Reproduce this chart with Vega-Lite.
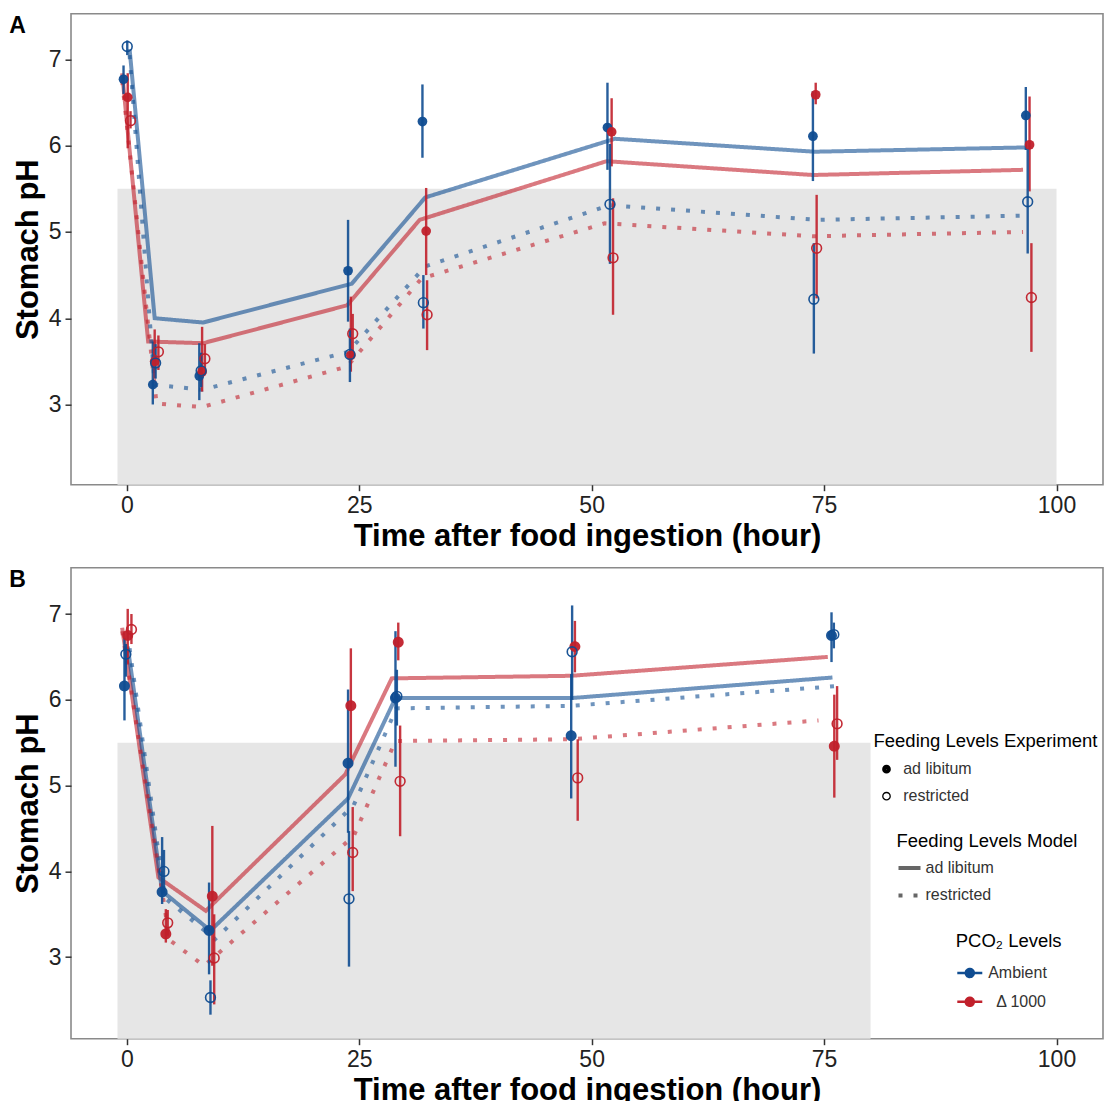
{
  "$schema": "https://vega.github.io/schema/vega-lite/v6.json",
  "background": "white",
  "padding": {"left": 8, "top": 12.7, "right": 0, "bottom": 0},
  "spacing": 14,
  "config": {
    "font": "Liberation Sans",
    "view": {"stroke": "#8a8a8a", "strokeWidth": 1.6},
    "axis": {"domain": false, "grid": false, "tickColor": "#333333", "tickSize": 6, "tickWidth": 1.5, "labelFontSize": 23, "labelColor": "#222222", "labelFont": "Liberation Sans", "titleFont": "Liberation Sans", "titleFontSize": 31, "titleFontWeight": "bold", "titleColor": "#000000", "labelPadding": 4, "titlePadding": 4},
    "legend": {"titleFont": "Liberation Sans", "labelFont": "Liberation Sans", "titleFontSize": 18.5, "titleFontWeight": "normal", "titleColor": "#000000", "labelFontSize": 16, "labelColor": "#333333", "padding": 0, "titlePadding": 10, "rowPadding": 11, "titleLimit": 500, "labelLimit": 300, "symbolOpacity": 1},
    "title": {"font": "Liberation Sans", "fontSize": 23, "fontWeight": "bold", "anchor": "start", "frame": "bounds", "baseline": "top", "offset": -24, "dx": -3, "color": "#000000"}
  },
  "resolve": {"scale": {"color": "independent", "shape": "independent", "strokeDash": "independent"}, "legend": {"color": "independent", "shape": "independent", "strokeDash": "independent"}},
  "datasets": {
    "mA": [
      {"co2": "Ambient", "feedModel": "ad libitum", "t": 0.3, "pH": 7.12},
      {"co2": "Ambient", "feedModel": "ad libitum", "t": 3.0, "pH": 4.0},
      {"co2": "Ambient", "feedModel": "ad libitum", "t": 8.2, "pH": 3.95},
      {"co2": "Ambient", "feedModel": "ad libitum", "t": 24.2, "pH": 4.40},
      {"co2": "Ambient", "feedModel": "ad libitum", "t": 32.1, "pH": 5.40},
      {"co2": "Ambient", "feedModel": "ad libitum", "t": 52.5, "pH": 6.08},
      {"co2": "Ambient", "feedModel": "ad libitum", "t": 74.0, "pH": 5.93},
      {"co2": "Ambient", "feedModel": "ad libitum", "t": 96.8, "pH": 5.98},
      {"co2": "Δ 1000", "feedModel": "ad libitum", "t": -0.5, "pH": 6.84},
      {"co2": "Δ 1000", "feedModel": "ad libitum", "t": 2.3, "pH": 3.73},
      {"co2": "Δ 1000", "feedModel": "ad libitum", "t": 8.2, "pH": 3.71},
      {"co2": "Δ 1000", "feedModel": "ad libitum", "t": 23.7, "pH": 4.15},
      {"co2": "Δ 1000", "feedModel": "ad libitum", "t": 31.5, "pH": 5.14},
      {"co2": "Δ 1000", "feedModel": "ad libitum", "t": 51.6, "pH": 5.82},
      {"co2": "Δ 1000", "feedModel": "ad libitum", "t": 73.8, "pH": 5.66},
      {"co2": "Δ 1000", "feedModel": "ad libitum", "t": 96.4, "pH": 5.72},
      {"co2": "Ambient", "feedModel": "restricted", "t": 0.3, "pH": 7.05},
      {"co2": "Ambient", "feedModel": "restricted", "t": 3.0, "pH": 3.23},
      {"co2": "Ambient", "feedModel": "restricted", "t": 8.1, "pH": 3.17},
      {"co2": "Ambient", "feedModel": "restricted", "t": 23.8, "pH": 3.61},
      {"co2": "Ambient", "feedModel": "restricted", "t": 32.1, "pH": 4.60},
      {"co2": "Ambient", "feedModel": "restricted", "t": 51.9, "pH": 5.31},
      {"co2": "Ambient", "feedModel": "restricted", "t": 74.4, "pH": 5.14},
      {"co2": "Ambient", "feedModel": "restricted", "t": 96.9, "pH": 5.19},
      {"co2": "Δ 1000", "feedModel": "restricted", "t": -0.5, "pH": 6.75},
      {"co2": "Δ 1000", "feedModel": "restricted", "t": 3.2, "pH": 3.01},
      {"co2": "Δ 1000", "feedModel": "restricted", "t": 8.1, "pH": 2.97},
      {"co2": "Δ 1000", "feedModel": "restricted", "t": 23.7, "pH": 3.44},
      {"co2": "Δ 1000", "feedModel": "restricted", "t": 31.7, "pH": 4.46},
      {"co2": "Δ 1000", "feedModel": "restricted", "t": 51.4, "pH": 5.10},
      {"co2": "Δ 1000", "feedModel": "restricted", "t": 73.8, "pH": 4.95},
      {"co2": "Δ 1000", "feedModel": "restricted", "t": 96.4, "pH": 5.00}
    ],
    "eA": [
      {"co2": "Ambient", "feedExp": "ad libitum", "t": -0.35, "pH": 6.77, "lo": 6.6, "hi": 6.93},
      {"co2": "Δ 1000", "feedExp": "ad libitum", "t": 0.1, "pH": 6.56, "lo": 5.97, "hi": 6.84},
      {"co2": "Ambient", "feedExp": "restricted", "t": 0.05, "pH": 7.15, "lo": 7.05, "hi": 7.22},
      {"co2": "Δ 1000", "feedExp": "restricted", "t": 0.4, "pH": 6.29, "lo": 6.2, "hi": 6.4},
      {"co2": "Ambient", "feedExp": "ad libitum", "t": 2.8, "pH": 3.23, "lo": 3.0, "hi": 3.73},
      {"co2": "Δ 1000", "feedExp": "ad libitum", "t": 3.0, "pH": 3.50, "lo": 3.30, "hi": 3.87},
      {"co2": "Ambient", "feedExp": "restricted", "t": 3.1, "pH": 3.48, "lo": 3.3, "hi": 3.7},
      {"co2": "Δ 1000", "feedExp": "restricted", "t": 3.4, "pH": 3.61, "lo": 3.4, "hi": 3.8},
      {"co2": "Ambient", "feedExp": "ad libitum", "t": 7.8, "pH": 3.33, "lo": 3.05, "hi": 3.71},
      {"co2": "Δ 1000", "feedExp": "ad libitum", "t": 8.1, "pH": 3.38, "lo": 3.15, "hi": 3.90},
      {"co2": "Ambient", "feedExp": "restricted", "t": 8.0, "pH": 3.39, "lo": 3.2, "hi": 3.6},
      {"co2": "Δ 1000", "feedExp": "restricted", "t": 8.4, "pH": 3.53, "lo": 3.35, "hi": 3.7},
      {"co2": "Ambient", "feedExp": "ad libitum", "t": 23.8, "pH": 4.55, "lo": 3.96, "hi": 5.14},
      {"co2": "Δ 1000", "feedExp": "ad libitum", "t": 24.1, "pH": 3.57, "lo": 3.38, "hi": 4.25},
      {"co2": "Ambient", "feedExp": "restricted", "t": 24.0, "pH": 3.58, "lo": 3.26, "hi": 3.88},
      {"co2": "Δ 1000", "feedExp": "restricted", "t": 24.3, "pH": 3.82, "lo": 3.55, "hi": 4.05},
      {"co2": "Ambient", "feedExp": "ad libitum", "t": 31.8, "pH": 6.28, "lo": 5.86, "hi": 6.71},
      {"co2": "Δ 1000", "feedExp": "ad libitum", "t": 32.2, "pH": 5.01, "lo": 4.50, "hi": 5.51},
      {"co2": "Ambient", "feedExp": "restricted", "t": 31.9, "pH": 4.18, "lo": 3.88, "hi": 4.50},
      {"co2": "Δ 1000", "feedExp": "restricted", "t": 32.3, "pH": 4.04, "lo": 3.63, "hi": 4.44},
      {"co2": "Ambient", "feedExp": "ad libitum", "t": 51.7, "pH": 6.21, "lo": 5.72, "hi": 6.73},
      {"co2": "Δ 1000", "feedExp": "ad libitum", "t": 52.15, "pH": 6.16, "lo": 5.76, "hi": 6.55},
      {"co2": "Ambient", "feedExp": "restricted", "t": 51.97, "pH": 5.32, "lo": 4.63, "hi": 6.02},
      {"co2": "Δ 1000", "feedExp": "restricted", "t": 52.3, "pH": 4.70, "lo": 4.04, "hi": 5.39},
      {"co2": "Ambient", "feedExp": "ad libitum", "t": 73.8, "pH": 6.11, "lo": 5.59, "hi": 6.63},
      {"co2": "Δ 1000", "feedExp": "ad libitum", "t": 74.1, "pH": 6.59, "lo": 6.48, "hi": 6.73},
      {"co2": "Ambient", "feedExp": "restricted", "t": 73.9, "pH": 4.22, "lo": 3.59, "hi": 4.87},
      {"co2": "Δ 1000", "feedExp": "restricted", "t": 74.2, "pH": 4.81, "lo": 4.23, "hi": 5.43},
      {"co2": "Ambient", "feedExp": "ad libitum", "t": 96.7, "pH": 6.35, "lo": 5.95, "hi": 6.68},
      {"co2": "Δ 1000", "feedExp": "ad libitum", "t": 97.1, "pH": 6.01, "lo": 5.47, "hi": 6.57},
      {"co2": "Ambient", "feedExp": "restricted", "t": 96.9, "pH": 5.35, "lo": 4.75, "hi": 5.97},
      {"co2": "Δ 1000", "feedExp": "restricted", "t": 97.3, "pH": 4.24, "lo": 3.61, "hi": 4.87}
    ],
    "mB": [
      {"co2": "Δ 1000", "feedModel": "ad libitum", "t": -0.5, "pH": 6.84},
      {"co2": "Δ 1000", "feedModel": "ad libitum", "t": 3.4, "pH": 3.93},
      {"co2": "Δ 1000", "feedModel": "ad libitum", "t": 8.5, "pH": 3.54},
      {"co2": "Δ 1000", "feedModel": "ad libitum", "t": 23.5, "pH": 5.13},
      {"co2": "Δ 1000", "feedModel": "ad libitum", "t": 28.5, "pH": 6.25},
      {"co2": "Δ 1000", "feedModel": "ad libitum", "t": 47.8, "pH": 6.28},
      {"co2": "Δ 1000", "feedModel": "ad libitum", "t": 75.4, "pH": 6.50},
      {"co2": "Ambient", "feedModel": "ad libitum", "t": 0.1, "pH": 6.62},
      {"co2": "Ambient", "feedModel": "ad libitum", "t": 3.8, "pH": 3.77},
      {"co2": "Ambient", "feedModel": "ad libitum", "t": 9.0, "pH": 3.31},
      {"co2": "Ambient", "feedModel": "ad libitum", "t": 23.8, "pH": 4.85},
      {"co2": "Ambient", "feedModel": "ad libitum", "t": 28.9, "pH": 6.02},
      {"co2": "Ambient", "feedModel": "ad libitum", "t": 47.8, "pH": 6.02},
      {"co2": "Ambient", "feedModel": "ad libitum", "t": 75.9, "pH": 6.26},
      {"co2": "Ambient", "feedModel": "restricted", "t": 0.3, "pH": 6.6},
      {"co2": "Ambient", "feedModel": "restricted", "t": 4.1, "pH": 3.69},
      {"co2": "Ambient", "feedModel": "restricted", "t": 9.5, "pH": 3.21},
      {"co2": "Ambient", "feedModel": "restricted", "t": 24.4, "pH": 4.77},
      {"co2": "Ambient", "feedModel": "restricted", "t": 29.0, "pH": 5.90},
      {"co2": "Ambient", "feedModel": "restricted", "t": 47.8, "pH": 5.93},
      {"co2": "Ambient", "feedModel": "restricted", "t": 76.4, "pH": 6.16},
      {"co2": "Δ 1000", "feedModel": "restricted", "t": -0.5, "pH": 6.8},
      {"co2": "Δ 1000", "feedModel": "restricted", "t": 4.6, "pH": 3.2},
      {"co2": "Δ 1000", "feedModel": "restricted", "t": 8.3, "pH": 2.9},
      {"co2": "Δ 1000", "feedModel": "restricted", "t": 24.4, "pH": 4.41},
      {"co2": "Δ 1000", "feedModel": "restricted", "t": 28.9, "pH": 5.52},
      {"co2": "Δ 1000", "feedModel": "restricted", "t": 47.8, "pH": 5.54},
      {"co2": "Δ 1000", "feedModel": "restricted", "t": 74.4, "pH": 5.76}
    ],
    "eB": [
      {"co2": "Ambient", "feedExp": "ad libitum", "t": -0.25, "pH": 6.16, "lo": 5.76, "hi": 6.72},
      {"co2": "Δ 1000", "feedExp": "ad libitum", "t": 0.1, "pH": 6.75, "lo": 6.42, "hi": 7.06},
      {"co2": "Ambient", "feedExp": "restricted", "t": -0.1, "pH": 6.53, "lo": 6.27, "hi": 6.65},
      {"co2": "Δ 1000", "feedExp": "restricted", "t": 0.5, "pH": 6.82, "lo": 6.65, "hi": 7.0},
      {"co2": "Ambient", "feedExp": "ad libitum", "t": 3.8, "pH": 3.76, "lo": 3.62, "hi": 4.40},
      {"co2": "Δ 1000", "feedExp": "ad libitum", "t": 4.2, "pH": 3.27, "lo": 3.17, "hi": 3.56},
      {"co2": "Ambient", "feedExp": "restricted", "t": 4.0, "pH": 4.00, "lo": 3.75, "hi": 4.25},
      {"co2": "Δ 1000", "feedExp": "restricted", "t": 4.4, "pH": 3.40, "lo": 3.25, "hi": 3.55},
      {"co2": "Ambient", "feedExp": "ad libitum", "t": 8.85, "pH": 3.31, "lo": 2.8, "hi": 3.87},
      {"co2": "Δ 1000", "feedExp": "ad libitum", "t": 9.2, "pH": 3.71, "lo": 2.9, "hi": 4.53},
      {"co2": "Ambient", "feedExp": "restricted", "t": 9.0, "pH": 2.53, "lo": 2.33, "hi": 2.73},
      {"co2": "Δ 1000", "feedExp": "restricted", "t": 9.4, "pH": 2.99, "lo": 2.45, "hi": 3.5},
      {"co2": "Ambient", "feedExp": "ad libitum", "t": 23.8, "pH": 5.26, "lo": 4.45, "hi": 6.12},
      {"co2": "Δ 1000", "feedExp": "ad libitum", "t": 24.1, "pH": 5.93, "lo": 5.25, "hi": 6.6},
      {"co2": "Ambient", "feedExp": "restricted", "t": 23.9, "pH": 3.68, "lo": 2.89, "hi": 4.47},
      {"co2": "Δ 1000", "feedExp": "restricted", "t": 24.3, "pH": 4.22, "lo": 3.77, "hi": 4.75},
      {"co2": "Ambient", "feedExp": "ad libitum", "t": 28.9, "pH": 6.02, "lo": 5.22, "hi": 6.80},
      {"co2": "Δ 1000", "feedExp": "ad libitum", "t": 29.2, "pH": 6.67, "lo": 6.46, "hi": 6.90},
      {"co2": "Ambient", "feedExp": "restricted", "t": 29.05, "pH": 6.04, "lo": 5.7, "hi": 6.35},
      {"co2": "Δ 1000", "feedExp": "restricted", "t": 29.4, "pH": 5.05, "lo": 4.41, "hi": 5.70},
      {"co2": "Ambient", "feedExp": "ad libitum", "t": 47.8, "pH": 5.58, "lo": 4.85, "hi": 6.30},
      {"co2": "Δ 1000", "feedExp": "ad libitum", "t": 48.2, "pH": 6.62, "lo": 6.32, "hi": 6.92},
      {"co2": "Ambient", "feedExp": "restricted", "t": 47.9, "pH": 6.56, "lo": 6.0, "hi": 7.10},
      {"co2": "Δ 1000", "feedExp": "restricted", "t": 48.5, "pH": 5.09, "lo": 4.59, "hi": 5.54},
      {"co2": "Ambient", "feedExp": "ad libitum", "t": 75.8, "pH": 6.75, "lo": 6.44, "hi": 7.02},
      {"co2": "Ambient", "feedExp": "restricted", "t": 76.05, "pH": 6.76, "lo": 6.6, "hi": 6.9},
      {"co2": "Δ 1000", "feedExp": "ad libitum", "t": 76.1, "pH": 5.46, "lo": 4.86, "hi": 6.06},
      {"co2": "Δ 1000", "feedExp": "restricted", "t": 76.4, "pH": 5.72, "lo": 5.3, "hi": 6.16}
    ]
  },
  "vconcat": [
    {
      "title": {"text": "A"},
      "width": 1032,
      "height": 471,
      "layer": [
        {
          "data": {"values": [{"t": -1, "t2": 100, "pH": 2.07, "pH2": 5.5}]},
          "mark": {"type": "rect", "color": "#e6e6e6"},
          "encoding": {
            "x": {"field": "t", "type": "quantitative", "scale": {"domain": [-6, 105], "nice": false, "zero": false}, "axis": {"values": [0, 25, 50, 75, 100], "title": "Time after food ingestion (hour)"}},
            "x2": {"field": "t2"},
            "y": {"field": "pH", "type": "quantitative", "scale": {"domain": [2.07, 7.53], "nice": false, "zero": false}, "axis": {"values": [3, 4, 5, 6, 7], "format": "d", "title": "Stomach pH"}},
            "y2": {"field": "pH2"}
          }
        },
        {
          "data": {"name": "mA"},
          "mark": {"type": "line", "strokeWidth": 4, "opacity": 0.6, "strokeCap": "butt"},
          "encoding": {
            "x": {"field": "t", "type": "quantitative"},
            "y": {"field": "pH", "type": "quantitative"},
            "color": {"field": "co2", "type": "nominal", "scale": {"domain": ["Ambient", "Δ 1000"], "range": ["#0f4c91", "#c1202b"]}, "legend": null},
            "strokeDash": {"field": "feedModel", "type": "nominal", "scale": {"range": [[1, 0], [4, 11]]}, "legend": null}
          }
        },
        {
          "data": {"name": "eA"},
          "mark": {"type": "rule", "strokeWidth": 2.4, "opacity": 0.9},
          "encoding": {
            "x": {"field": "t", "type": "quantitative"},
            "y": {"field": "lo", "type": "quantitative"},
            "y2": {"field": "hi"},
            "color": {"field": "co2", "type": "nominal", "legend": null}
          }
        },
        {
          "data": {"name": "eA"},
          "transform": [{"filter": "datum.feedExp === 'ad libitum'"}],
          "mark": {"type": "point", "filled": true, "size": 95, "opacity": 0.95},
          "encoding": {
            "x": {"field": "t", "type": "quantitative"},
            "y": {"field": "pH", "type": "quantitative"},
            "color": {"field": "co2", "type": "nominal", "legend": null},
            "shape": {"field": "feedExp", "type": "nominal", "scale": {"range": ["circle", "circle"]}, "legend": null}
          }
        },
        {
          "data": {"name": "eA"},
          "transform": [{"filter": "datum.feedExp === 'restricted'"}],
          "mark": {"type": "point", "filled": false, "size": 95, "strokeWidth": 1.6, "opacity": 0.95},
          "encoding": {
            "x": {"field": "t", "type": "quantitative"},
            "y": {"field": "pH", "type": "quantitative"},
            "color": {"field": "co2", "type": "nominal", "legend": null},
            "shape": {"field": "feedExp", "type": "nominal", "legend": null}
          }
        }
      ]
    },
    {
      "title": {"text": "B"},
      "width": 1032,
      "height": 471,
      "layer": [
        {
          "data": {"values": [{"t": -1, "t2": 80, "pH": 2.05, "pH2": 5.5}]},
          "mark": {"type": "rect", "color": "#e6e6e6"},
          "encoding": {
            "x": {"field": "t", "type": "quantitative", "scale": {"domain": [-6, 105], "nice": false, "zero": false}, "axis": {"values": [0, 25, 50, 75, 100], "title": "Time after food ingestion (hour)"}},
            "x2": {"field": "t2"},
            "y": {"field": "pH", "type": "quantitative", "scale": {"domain": [2.05, 7.54], "nice": false, "zero": false}, "axis": {"values": [3, 4, 5, 6, 7], "format": "d", "title": "Stomach pH"}},
            "y2": {"field": "pH2"}
          }
        },
        {
          "data": {"name": "mB"},
          "mark": {"type": "line", "strokeWidth": 4, "opacity": 0.6, "strokeCap": "butt"},
          "encoding": {
            "x": {"field": "t", "type": "quantitative"},
            "y": {"field": "pH", "type": "quantitative"},
            "color": {"field": "co2", "type": "nominal", "scale": {"domain": ["Ambient", "Δ 1000"], "range": ["#0f4c91", "#c1202b"]},
              "legend": {"title": "PCO₂ Levels", "orient": "none", "legendX": 884.8, "legendY": 364.2, "titlePadding": 8.6, "rowPadding": 5.8,
                "symbolType": "M-1,0L1,0M-0.32,0A0.32,0.32,0,1,0,0.32,0A0.32,0.32,0,1,0,-0.32,0M-0.17,0A0.17,0.17,0,1,0,0.17,0A0.17,0.17,0,1,0,-0.17,0M-0.04,0A0.04,0.04,0,1,0,0.04,0A0.04,0.04,0,1,0,-0.04,0",
                "symbolSize": 625, "symbolStrokeWidth": 2.5, "symbolOpacity": 1, "symbolDash": [1, 0], "symbolOffset": 0, "labelOffset": 4.4,
                "labelExpr": "datum.label === 'Ambient' ? 'Ambient' : '\u200b\u2002Δ 1000'"}},
            "strokeDash": {"field": "feedModel", "type": "nominal", "scale": {"range": [[1, 0], [4, 11]]},
              "legend": {"title": "Feeding Levels Model", "orient": "none", "legendX": 825.5, "legendY": 264.2, "titlePadding": 4.6, "rowPadding": 6.4, "symbolType": "stroke", "symbolSize": 484, "symbolStrokeWidth": 4, "symbolStrokeColor": "#666666", "symbolOpacity": 1, "symbolOffset": 0, "labelOffset": 3}}
          }
        },
        {
          "data": {"name": "eB"},
          "mark": {"type": "rule", "strokeWidth": 2.4, "opacity": 0.9},
          "encoding": {
            "x": {"field": "t", "type": "quantitative"},
            "y": {"field": "lo", "type": "quantitative"},
            "y2": {"field": "hi"},
            "color": {"field": "co2", "type": "nominal"}
          }
        },
        {
          "data": {"name": "eB"},
          "transform": [{"filter": "datum.feedExp === 'ad libitum'"}],
          "mark": {"type": "point", "filled": true, "size": 120, "opacity": 0.95},
          "encoding": {
            "x": {"field": "t", "type": "quantitative"},
            "y": {"field": "pH", "type": "quantitative"},
            "color": {"field": "co2", "type": "nominal"},
            "shape": {"field": "feedExp", "type": "nominal", "scale": {"range": ["M-1,0A1,1,0,1,0,1,0A1,1,0,1,0,-1,0ZM-0.75,0A0.75,0.75,0,1,0,0.75,0A0.75,0.75,0,1,0,-0.75,0ZM-0.5,0A0.5,0.5,0,1,0,0.5,0A0.5,0.5,0,1,0,-0.5,0ZM-0.25,0A0.25,0.25,0,1,0,0.25,0A0.25,0.25,0,1,0,-0.25,0Z", "circle"]},
              "legend": {"title": "Feeding Levels Experiment", "orient": "none", "legendX": 802.5, "legendY": 164, "titlePadding": 11, "symbolSize": 55, "symbolOffset": 5, "labelOffset": 8.7,
                "symbolFillColor": "transparent", "symbolStrokeColor": "black", "symbolStrokeWidth": 1.3, "symbolOpacity": 1}}
          }
        },
        {
          "data": {"name": "eB"},
          "transform": [{"filter": "datum.feedExp === 'restricted'"}],
          "mark": {"type": "point", "filled": false, "size": 95, "strokeWidth": 1.6, "opacity": 0.95},
          "encoding": {
            "x": {"field": "t", "type": "quantitative"},
            "y": {"field": "pH", "type": "quantitative"},
            "color": {"field": "co2", "type": "nominal"},
            "shape": {"field": "feedExp", "type": "nominal"}
          }
        }
      ]
    }
  ]
}
